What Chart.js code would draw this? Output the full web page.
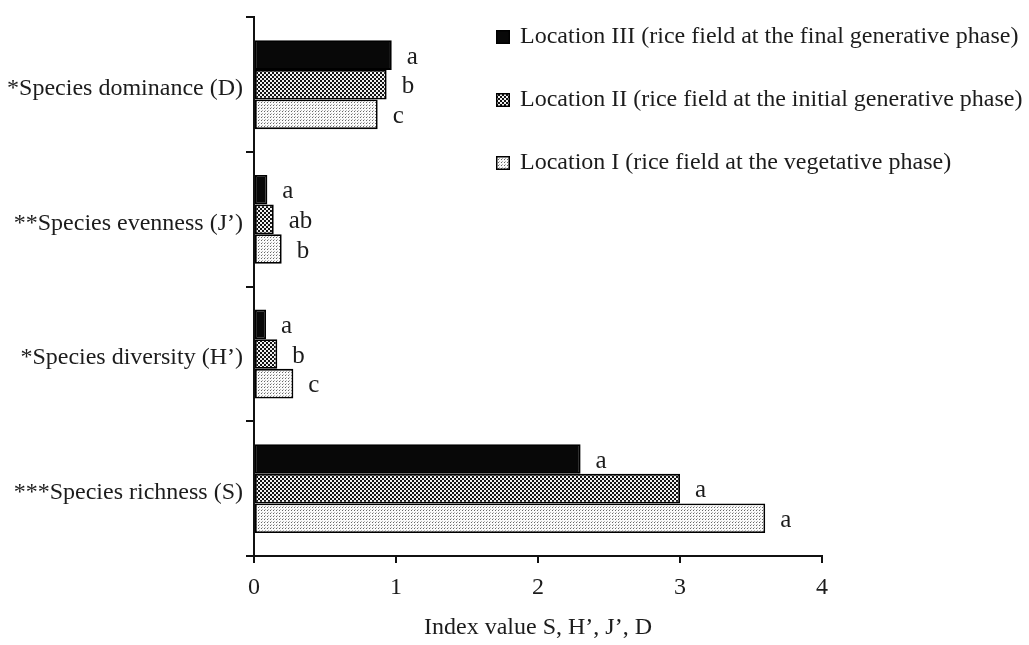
<!DOCTYPE html>
<html>
<head>
<meta charset="utf-8">
<script src="https://cdn.jsdelivr.net/npm/chart.js@4.4.1/dist/chart.umd.min.js"></script>
<style>
  html, body { margin: 0; padding: 0; background: #fff; }
</style>
</head>
<body>
<canvas id="chart" width="1029" height="645"></canvas>
<script>
// categories, top to bottom
const categories = [
  "*Species dominance (D)",
  "**Species evenness (J\u2019)",
  "*Species diversity (H\u2019)",
  "***Species richness (S)",
];
const seriesLabels = [
  "Location III (rice field at the final generative phase)",
  "Location II (rice field at the initial generative phase)",
  "Location I (rice field at the vegetative phase)",
];
const locationIII = [0.97, 0.094, 0.085, 2.3];
const locationII = [0.934, 0.139, 0.164, 3.0];
const locationI = [0.871, 0.195, 0.277, 3.6];
// significance letters drawn after each bar
const lettersIII = ["a", "a", "a", "a"];
const lettersII = ["b", "ab", "b", "a"];
const lettersI = ["c", "b", "c", "a"];
const xTicks = [0, 1, 2, 3, 4];

const serif = '"Liberation Serif", "Times New Roman", serif';
const textColor = "#1c1c1c";

function makePattern(size, draw) {
  const c = document.createElement("canvas");
  c.width = c.height = size;
  const g = c.getContext("2d");
  draw(g);
  return g.createPattern(c, "repeat");
}

const solidBlack = "#080808";
const darkChecker = makePattern(4, (g) => {
  g.fillStyle = "#f0f0f0";
  g.fillRect(0, 0, 4, 4);
  g.fillStyle = "#121212";
  g.fillRect(0, 0, 2, 2);
  g.fillRect(2, 2, 2, 2);
});
const lightDots = makePattern(3, (g) => {
  g.fillStyle = "#fafafa";
  g.fillRect(0, 0, 3, 3);
  g.fillStyle = "#666";
  g.fillRect(0, 0, 1, 1);
  g.fillStyle = "#b4b4b4";
  g.fillRect(1, 2, 1, 1);
});

// legend drawn over the top-right of the plot, like the original figure
const sideLegend = {
  id: "sideLegend",
  afterDraw(chart) {
    const ctx = chart.ctx;
    ctx.save();
    ctx.font = "24px " + serif;
    ctx.textBaseline = "middle";
    ctx.textAlign = "left";
    chart.data.datasets.forEach((ds, i) => {
      const y = 37 + i * 63;
      ctx.fillStyle = ds.backgroundColor;
      ctx.fillRect(496, y - 7, 14, 14);
      ctx.strokeStyle = "#000";
      ctx.lineWidth = 1.5;
      ctx.strokeRect(496.75, y - 6.25, 12.5, 12.5);
      ctx.fillStyle = textColor;
      ctx.fillText(ds.label, 520, y);
    });
    ctx.restore();
  },
};

const barLetters = {
  id: "barLetters",
  afterDatasetsDraw(chart) {
    const ctx = chart.ctx;
    ctx.save();
    ctx.font = "25px " + serif;
    ctx.fillStyle = textColor;
    ctx.textBaseline = "middle";
    ctx.textAlign = "left";
    chart.data.datasets.forEach((ds, i) => {
      chart.getDatasetMeta(i).data.forEach((bar, j) => {
        ctx.fillText(ds.letters[j], bar.x + 15, bar.y + 2);
      });
    });
    ctx.restore();
  },
};

const font = { family: serif, size: 24 };

new Chart(document.getElementById("chart"), {
  type: "bar",
  data: {
    labels: categories,
    datasets: [
      { label: seriesLabels[0], data: locationIII, letters: lettersIII, backgroundColor: solidBlack },
      { label: seriesLabels[1], data: locationII, letters: lettersII, backgroundColor: darkChecker },
      { label: seriesLabels[2], data: locationI, letters: lettersI, backgroundColor: lightDots },
    ].map((ds) => ({
      ...ds,
      borderColor: "#000",
      borderWidth: 1.8,
      borderSkipped: false,
      barPercentage: 1,
      categoryPercentage: 0.66,
    })),
  },
  options: {
    indexAxis: "y",
    responsive: false,
    animation: false,
    layout: { padding: { left: 0, right: 207, top: 15, bottom: 0 } },
    plugins: {
      legend: { display: false },
      tooltip: { enabled: false },
    },
    scales: {
      y: {
        type: "category",
        offset: true,
        grid: { offset: true, drawOnChartArea: false, tickLength: 8, color: "#111", lineWidth: 2 },
        border: { color: "#111", width: 2 },
        ticks: { color: textColor, font, padding: 3, labelOffset: 4, autoSkip: false },
        afterFit(scale) {
          scale.width = 254;
        },
      },
      x: {
        type: "linear",
        min: xTicks[0],
        max: xTicks[xTicks.length - 1],
        ticks: { stepSize: 1, color: textColor, font, padding: 10 },
        grid: { drawOnChartArea: false, tickLength: 7, color: "#111", lineWidth: 2 },
        border: { color: "#111", width: 2 },
        title: {
          display: true,
          text: "Index value S, H\u2019, J\u2019, D",
          color: textColor,
          font,
          padding: { top: 0, bottom: 3 },
        },
        afterFit(scale) {
          scale.height = 89;
        },
      },
    },
  },
  plugins: [barLetters, sideLegend],
});
</script>
</body>
</html>
